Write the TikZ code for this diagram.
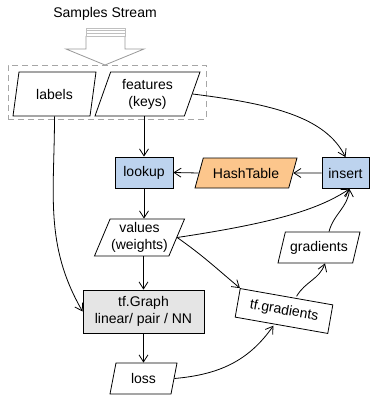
\documentclass[tikz,border=0pt]{standalone}
\usepackage{fontspec}
\setmainfont{Liberation Sans}
\usepackage{xcolor}
\usepackage{tikz}
\usetikzlibrary{shapes,arrows.meta,positioning,calc}

\definecolor{lookupblue}{HTML}{BDD3EE}
\definecolor{hashorange}{HTML}{FCC68C}

\begin{document}
\begin{tikzpicture}[x=1pt,y=1pt,>={Straight Barb[length=7pt,width=9pt]},
  font=\fontsize{14}{17}\selectfont,
  box/.style={draw,rectangle,line width=0.8pt,inner sep=2pt},
  data/.style={draw,trapezium,trapezium left angle=64,trapezium right angle=116,
    trapezium stretches body=true,line width=0.8pt,inner sep=1pt,align=center},
  link/.style={->,line width=0.8pt}]
\useasboundingbox (0,0) rectangle (375,-396);

% input batch
\node (title) at (105,-14) {Samples Stream};
\node[draw=gray!70,dashed,dash pattern=on 6pt off 4pt,line width=0.8pt,minimum width=198,minimum height=54] (batch) at (107,-92) {};
\draw[gray!80,line width=0.8pt,fill=white] (86,-36) -- (86,-49) -- (66,-49) -- (105,-65) -- (144,-49) -- (125,-49) -- (125,-36);
\draw[gray!50,line width=0.8pt] (86,-28) rectangle (125,-36) (86,-30.7) -- (125,-30.7) (86,-33.3) -- (125,-33.3);

\node[data,minimum width=83,minimum height=44] (labels) at (54.5,-94) {labels};
\node[data,minimum width=105,minimum height=44] (feat) at (147.5,-94) {features\\(keys)};

% embedding
\node[box,fill=lookupblue,minimum width=58,minimum height=31] (lookup) at (144,-172.5) {lookup};
\node[data,fill=hashorange,trapezium left angle=56,trapezium right angle=124,minimum width=102,minimum height=30] (hash) at (246,-173) {HashTable};
\node[box,fill=lookupblue,minimum width=47,minimum height=31] (insert) at (345.5,-173) {insert};
\node[data,minimum width=87,minimum height=37] (vals) at (139.5,-237.5) {values\\(weights)};

% model
\node[box,fill=gray!20,minimum width=121,minimum height=43,align=center] (graph) at (143.5,-311.5) {tf.Graph\\linear/ pair / NN};
\node[data,minimum width=67,minimum height=31] (loss) at (143.5,-378.5) {loss};
\node[box,rotate=-10,minimum width=94,minimum height=29] (tfgrad) at (284,-311) {tf.gradients};
\node[data,minimum width=82,minimum height=31] (grads) at (319,-247.5) {gradients};

\draw[link] (labels.south) to[out=-90,in=120] (graph.west);
\draw[link] (feat.south -| lookup.north) -- (lookup.north);
\draw[link] (feat.east) .. controls +(80,-10) and +(-20,40) .. (insert.north);
\draw[link] (insert.west) -- (hash.east);
\draw[link] (hash.west) -- (lookup.east);
\draw[link] (lookup.south) -- (lookup.south |- vals.north);
\draw[link] (vals.south -| graph.north) -- (graph.north);
\draw[link] (graph.south) -- (graph.south |- loss.north);
\draw[link] (vals.east) .. controls +(100,15) and +(-30,-20) .. ([xshift=4pt]insert.south);
\draw[link] (vals.east) to[out=-35,in=140] (tfgrad.north west);
\draw[link] (loss.east) to[out=5,in=-125] ([xshift=-8pt]tfgrad.south);
\draw[link] ([xshift=10pt]tfgrad.north) to[out=60,in=-110] ([xshift=6pt]grads.south);
\draw[link] ([xshift=10pt]grads.north) to[out=75,in=-95] ([xshift=4pt]insert.south);
\end{tikzpicture}
\end{document}
